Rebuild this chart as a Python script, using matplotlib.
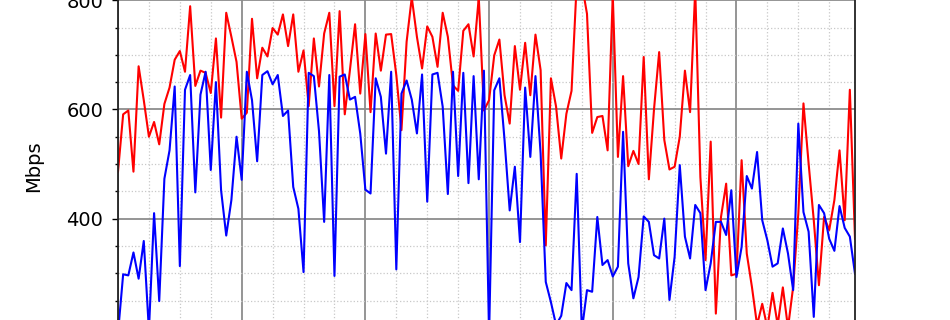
import numpy as np
import matplotlib
matplotlib.use("Agg")
import matplotlib.pyplot as plt
from matplotlib.ticker import MultipleLocator

# throughput samples (Mbps), one per interval
red_mbps = [486, 591, 598, 486, 679, 617, 550, 577, 536, 610,
            640, 691, 707, 669, 789, 643, 671, 667, 630, 730,
            585, 777, 733, 687, 583, 594, 766, 657, 713, 697,
            749, 737, 774, 716, 774, 669, 708, 606, 730, 642,
            739, 777, 606, 780, 591, 672, 756, 629, 738, 595,
            739, 671, 737, 738, 663, 562, 724, 805, 733, 675,
            752, 733, 678, 777, 733, 644, 634, 744, 756, 697,
            805, 598, 617, 699, 728, 626, 574, 716, 636, 722,
            626, 737, 672, 351, 657, 605, 510, 592, 634, 830,
            830, 775, 557, 586, 588, 525, 810, 513, 661, 496,
            524, 500, 696, 472, 600, 705, 544, 490, 495, 550,
            671, 595, 820, 476, 324, 541, 226, 403, 464, 296,
            299, 507, 336, 275, 205, 244, 200, 264, 205, 274,
            200, 275, 409, 611, 501, 397, 278, 403, 379, 434,
            525, 397, 636, 363]

blue_mbps = [190, 298, 296, 338, 290, 359, 195, 410, 249, 473,
             525, 642, 313, 636, 663, 448, 627, 669, 489, 650,
             452, 369, 434, 550, 471, 669, 617, 505, 663, 670,
             646, 663, 588, 598, 458, 418, 302, 667, 661, 560,
             394, 663, 295, 660, 664, 618, 623, 556, 453, 446,
             657, 623, 519, 669, 307, 629, 653, 618, 556, 664,
             431, 664, 667, 605, 445, 669, 478, 667, 465, 661,
             472, 671, 185, 635, 657, 544, 415, 495, 357, 640,
             513, 661, 519, 284, 247, 205, 222, 282, 269, 482,
             195, 269, 266, 403, 315, 324, 294, 312, 559, 318,
             254, 293, 404, 394, 333, 327, 400, 251, 330, 498,
             367, 327, 425, 410, 269, 318, 394, 394, 370, 452,
             293, 348, 478, 455, 522, 397, 360, 312, 318, 382,
             336, 269, 574, 412, 376, 220, 425, 410, 363, 341,
             423, 383, 367, 299]

x = np.arange(len(red_mbps))

# the picture only shows a slice of the y range
y_min, y_max = 0, 1000
vis_lo, vis_hi = 214.3, 800.4
span = vis_hi - vis_lo
ax_bottom = (y_min - vis_lo) / span
ax_height = (y_max - y_min) / span

fig = plt.figure(figsize=(9.5, 3.2), dpi=100)
ax = fig.add_axes([118 / 950, ax_bottom, 737 / 950, ax_height])

ax.plot(x, red_mbps, color="red", lw=1.5)
ax.plot(x, blue_mbps, color="blue", lw=1.5)

ax.set_xlim(0, len(x) - 1)
ax.set_ylim(y_min, y_max)
ax.xaxis.set_major_locator(MultipleLocator(24))
ax.xaxis.set_minor_locator(MultipleLocator(6))
ax.yaxis.set_major_locator(MultipleLocator(200))
ax.yaxis.set_minor_locator(MultipleLocator(50))

ax.grid(which="major", color="#8c8c8c", lw=1.3, ls="-")
ax.grid(which="minor", color="#c8c8c8", lw=0.9, ls=":")
ax.set_axisbelow(True)

ax.tick_params(axis="y", which="major", labelsize=14, length=4.5, width=1, pad=6)
ax.tick_params(axis="y", which="minor", length=2.5, width=1)
ax.tick_params(axis="x", labelbottom=False)
for s in ax.spines.values():
    s.set_linewidth(1.3)
    s.set_color("#222222")

ax.set_ylabel("Mbps", fontsize=14)
ax.yaxis.set_label_coords(-0.102, (496 - y_min) / (y_max - y_min))

fig.savefig("out.png", dpi=100)
